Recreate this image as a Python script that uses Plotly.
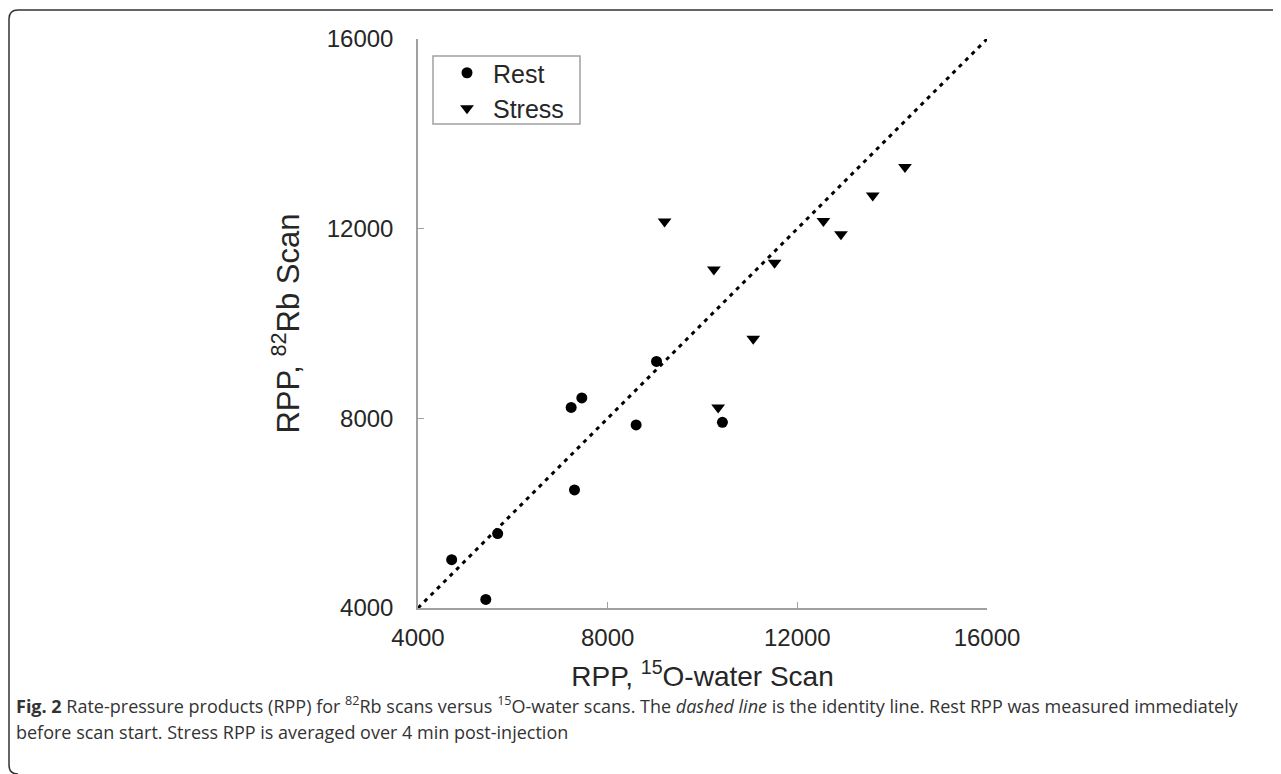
import plotly.graph_objects as go

# ---- data ----
rest_x = [4710, 5430, 5680, 7230, 7455, 7300, 8600, 9030, 10420]
rest_y = [5020, 4180, 5570, 8230, 8430, 6490, 7860, 9200, 7915]
stress_x = [9200, 10240, 11520, 12550, 12920, 13590, 14270, 11070, 10330]
stress_y = [12150, 11140, 11280, 12160, 11880, 12700, 13300, 9680, 8230]
identity = [4000, 16000]
tick_vals = [4000, 8000, 12000, 16000]
tick_text = ["4000", "8000", "12000", "16000"]

# the page body has an 8px margin; work in screen pixels and shift
OFF = 8
W, H = 1281 - OFF, 774 - OFF
L, R, T, B = 418 - OFF, 987 - OFF, 39 - OFF, 608 - OFF   # plot area (figure px)
PW, PH = R - L, B - T

def px(x):  # screen px -> paper
    return (x - OFF - L) / PW

def py(y):
    return (B - (y - OFF)) / PH

AX_FONT = "Liberation Sans, Arial, sans-serif"
TXT = "#262626"

fig = go.Figure()
fig.add_trace(go.Scatter(
    x=identity, y=identity, mode="lines", showlegend=False,
    line=dict(color="black", width=3, dash="4px,5px"), hoverinfo="skip"))
fig.add_trace(go.Scatter(
    x=rest_x, y=rest_y, mode="markers", name="Rest",
    marker=dict(symbol="circle", size=11, color="black")))
fig.add_trace(go.Scatter(
    x=stress_x, y=stress_y, mode="markers", name="Stress",
    marker=dict(symbol="triangle-down", size=12, color="black")))

axis_common = dict(
    range=[4000, 16000], tickvals=tick_vals, ticktext=tick_text,
    showgrid=False, zeroline=False, showline=True, linecolor="#a0a0a0",
    linewidth=1.5, ticks="inside", ticklen=6, tickcolor="#a0a0a0",
    tickfont=dict(family=AX_FONT, size=24, color=TXT),
)

fig.update_layout(
    width=W, height=H, autosize=False,
    margin=dict(l=L, r=W - R, t=T, b=H - B),
    paper_bgcolor="white", plot_bgcolor="white",
    xaxis=dict(**axis_common,
               ticklabelstandoff=7,
               title=dict(text="RPP, <sup>15</sup>O-water Scan",
                          font=dict(family=AX_FONT, size=28, color=TXT),
                          standoff=17)),
    yaxis=dict(**axis_common,
               ticklabelstandoff=18,
               title=dict(text="RPP, <sup>82</sup>Rb Scan",
                          font=dict(family=AX_FONT, size=31, color=TXT),
                          standoff=18)),
    legend=dict(x=px(433), y=py(50), xanchor="left", yanchor="top",
                bgcolor="rgba(0,0,0,0)", borderwidth=0,
                font=dict(family=AX_FONT, size=25, color=TXT),
                indentation=8, itemwidth=42, tracegroupgap=0),
)

# legend box drawn as a shape
fig.add_shape(type="rect", xref="paper", yref="paper",
              x0=px(433), x1=px(580), y0=py(124), y1=py(56),
              line=dict(color="#a0a0a0", width=1.5), fillcolor="white",
              layer="below")

# rounded outer frame
x0, y0 = px(9), py(10)
path = (f"M {px(1300)},{y0} L {px(18)},{y0} "
        f"Q {x0},{y0} {x0},{py(19)} "
        f"L {x0},{py(765)} Q {x0},{py(774)} {px(18)},{py(774)}")
fig.add_shape(type="path", path=path, xref="paper", yref="paper",
              line=dict(color="#333333", width=1.5))

CAP_FONT = "Open Sans, Noto Sans, sans-serif"
cap1 = ("<b>Fig. 2</b> Rate-pressure products (RPP) for <sup>82</sup>Rb scans versus "
        "<sup>15</sup>O-water scans. The <i>dashed line</i> is the identity line. "
        "Rest RPP was measured immediately")
cap2 = "before scan start. Stress RPP is averaged over 4 min post-injection"
for txt, yy in [(cap1, 705), (cap2, 732)]:
    fig.add_annotation(text=txt, xref="paper", yref="paper", x=px(14), y=py(yy),
                       xanchor="left", yanchor="middle", showarrow=False,
                       font=dict(family=CAP_FONT, size=18, color="#333333"))

fig.write_html("out.html")
